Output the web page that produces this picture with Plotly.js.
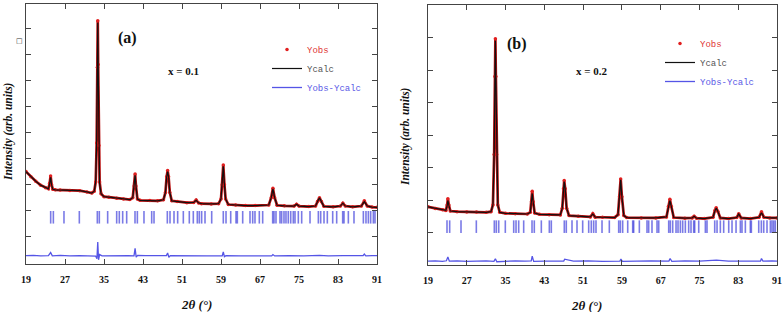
<!DOCTYPE html>
<html><head><meta charset="utf-8">
<script src="https://cdn.plot.ly/plotly-3.0.1.min.js"></script>
<style>html,body{margin:0;padding:0;background:#fff}#chart{width:784px;height:312px}</style>
</head><body><div id="chart"></div>
<script>
// ---- shared tick labels ----
const xTicks = [19,27,35,43,51,59,67,75,83,91];
const aYTicks = [1,2,3,4,5,6,7,8,9];
const bYTicks = [1,2,3,4,5,6,7];

// ---- panel (a): x = 0.1 ----
const aTwoTheta = [19.0,20.0,21.0,22.0,23.0,23.6,23.85,24.05,24.25,24.5,25.0,26.0,28.0,30.0,31.5,32.5,33.0,33.3,33.5,33.65,33.72,33.8,33.95,34.1,34.4,35.0,36.0,37.6,39.0,40.3,40.9,41.2,41.38,41.55,41.85,42.4,44.4,46.0,47.2,47.6,47.85,48.05,48.25,48.5,48.9,50.0,52.0,53.4,53.9,54.4,55.0,57.0,58.5,59.0,59.25,59.47,59.7,59.95,60.5,62.0,64.0,66.0,68.8,69.3,69.65,70.0,70.5,72.0,74.0,74.5,75.0,77.0,78.4,78.8,79.2,79.6,80.1,82.0,83.5,84.0,84.5,86.0,87.8,88.4,89.0,90.0,91.0];
const aObs = [3.50,3.30,3.13,2.98,2.88,2.84,3.05,3.33,3.00,2.82,2.80,2.79,2.78,2.77,2.72,2.68,2.75,3.10,4.60,7.50,9.28,7.60,4.50,3.10,2.65,2.54,2.52,2.48,2.45,2.43,2.50,2.95,3.41,2.95,2.45,2.40,2.39,2.38,2.42,2.70,3.30,3.54,3.30,2.70,2.38,2.35,2.31,2.32,2.41,2.30,2.27,2.26,2.27,2.45,3.00,3.75,3.00,2.45,2.24,2.22,2.20,2.20,2.22,2.50,2.86,2.50,2.21,2.19,2.18,2.25,2.18,2.16,2.18,2.35,2.50,2.35,2.17,2.15,2.18,2.29,2.18,2.15,2.18,2.38,2.18,2.14,2.13];
const aCalc = [3.50,3.30,3.13,2.98,2.88,2.84,3.03,3.28,2.99,2.82,2.80,2.79,2.78,2.77,2.72,2.68,2.75,3.12,4.70,7.40,9.20,7.70,4.55,3.05,2.65,2.54,2.52,2.48,2.45,2.43,2.50,2.93,3.36,2.97,2.45,2.40,2.39,2.38,2.42,2.71,3.28,3.50,3.31,2.70,2.38,2.35,2.31,2.32,2.40,2.30,2.27,2.26,2.27,2.46,3.00,3.70,3.01,2.45,2.24,2.22,2.20,2.20,2.22,2.50,2.84,2.50,2.21,2.19,2.18,2.25,2.18,2.16,2.18,2.35,2.50,2.35,2.17,2.15,2.18,2.29,2.18,2.15,2.18,2.35,2.18,2.14,2.13];
const aDiffX = [19.0,20.5,22.0,23.6,24.05,24.4,26.0,28.0,30.0,32.0,33.3,33.55,33.72,33.88,34.1,34.6,36.0,38.0,40.0,41.15,41.38,41.6,41.9,43.5,46.0,47.8,48.05,48.3,48.6,51.0,54.0,56.0,59.25,59.47,59.7,60.0,63.0,66.0,69.4,69.65,70.0,73.0,76.0,79.2,81.0,84.0,86.0,88.15,88.4,88.7,90.0,91.0];
const aDiff = [0.28,0.29,0.27,0.28,0.40,0.27,0.29,0.27,0.28,0.27,0.26,0.16,0.80,0.12,0.32,0.27,0.28,0.27,0.28,0.27,0.56,0.22,0.29,0.28,0.27,0.28,0.38,0.22,0.28,0.27,0.28,0.27,0.27,0.42,0.24,0.28,0.27,0.28,0.27,0.32,0.27,0.28,0.27,0.29,0.27,0.28,0.27,0.28,0.34,0.27,0.28,0.28];
const aBragg = [24.06,24.61,26.79,29.94,33.63,34.04,35.75,37.6,38.14,38.83,39.65,41.36,41.84,43.2,44.78,45.26,47.99,48.54,49.36,50.11,51.27,52.5,53.32,54.14,54.55,55.03,55.72,57.09,59.47,60.03,60.99,62.08,62.35,63.45,64.95,65.5,65.97,66.86,67.55,69.6,69.87,70.28,71.1,71.44,71.92,72.33,72.8,73.3,73.83,74.18,74.86,75.55,77.26,78.97,79.45,80.13,80.81,81.91,82.73,83.96,84.23,85.12,86.28,88.2,88.74,89.23,89.7,90.25,90.59];
const aBraggY = aBragg.map(() => 1.75);

// ---- panel (b): x = 0.2 ----
const bTwoTheta = [19.0,20.5,22.0,22.7,22.95,23.1,23.3,23.6,25.0,27.0,29.0,31.0,32.0,32.4,32.65,32.8,32.9,33.0,33.15,33.4,33.8,35.0,37.0,39.5,40.1,40.35,40.5,40.7,41.0,42.0,44.0,46.3,46.7,46.95,47.1,47.3,47.6,48.1,50.0,52.5,53.0,53.5,55.0,57.5,58.2,58.5,58.75,59.0,59.4,60.0,63.0,66.0,68.2,68.6,68.9,69.2,69.7,72.0,73.5,73.9,74.4,76.0,77.8,78.2,78.45,78.8,79.3,81.0,82.7,83.1,83.6,85.5,87.3,87.8,88.3,89.5,91.0];
const bObs = [1.79,1.74,1.70,1.68,1.85,2.04,1.85,1.66,1.64,1.63,1.63,1.62,1.64,1.85,3.40,5.80,6.96,5.80,3.40,1.85,1.62,1.59,1.58,1.57,1.62,1.95,2.27,1.95,1.60,1.56,1.55,1.54,1.75,2.35,2.60,2.35,1.75,1.52,1.50,1.48,1.58,1.47,1.47,1.46,1.55,2.10,2.65,2.10,1.52,1.46,1.45,1.45,1.48,1.80,2.02,1.80,1.46,1.44,1.45,1.50,1.44,1.43,1.47,1.68,1.76,1.65,1.45,1.43,1.46,1.58,1.45,1.43,1.47,1.64,1.47,1.45,1.45];
const bCalc = [1.79,1.74,1.70,1.68,1.83,1.98,1.84,1.66,1.64,1.63,1.63,1.62,1.64,1.86,3.45,5.75,6.90,5.82,3.42,1.85,1.62,1.59,1.58,1.57,1.62,1.93,2.20,1.94,1.60,1.56,1.55,1.54,1.75,2.33,2.57,2.35,1.75,1.52,1.50,1.48,1.57,1.47,1.47,1.46,1.55,2.09,2.62,2.10,1.52,1.46,1.45,1.45,1.48,1.79,1.98,1.80,1.46,1.44,1.45,1.50,1.44,1.43,1.47,1.67,1.75,1.65,1.45,1.43,1.46,1.57,1.45,1.43,1.47,1.61,1.47,1.45,1.45];
const bDiffX = [19.0,20.5,22.0,22.8,23.1,23.4,25.0,27.0,29.0,31.0,32.6,32.9,33.2,35.0,37.0,39.0,40.3,40.5,40.8,43.0,45.0,47.0,47.2,49.0,52.0,55.0,58.6,58.8,59.1,62.0,65.0,68.7,68.95,69.3,72.0,75.0,78.5,81.0,84.0,87.6,87.8,88.1,90.0,91.0];
const bDiff = [0.12,0.13,0.11,0.13,0.25,0.12,0.13,0.11,0.12,0.13,0.11,0.19,0.10,0.12,0.13,0.12,0.13,0.27,0.11,0.12,0.13,0.12,0.18,0.12,0.13,0.11,0.12,0.18,0.11,0.12,0.13,0.12,0.20,0.11,0.13,0.12,0.15,0.12,0.13,0.12,0.20,0.12,0.13,0.12];
const bBragg = [22.92,23.47,25.81,28.97,32.68,33.09,33.59,34.95,36.68,37.16,37.71,38.74,40.46,40.93,42.38,44.03,44.44,47.12,47.53,48.71,49.74,50.91,52.15,52.69,53.18,53.66,54.9,56.41,58.34,58.68,59.16,60.2,61.23,61.43,62.6,64.18,64.53,65.21,66.25,66.6,68.66,68.99,69.48,70.17,70.58,71.06,71.54,72.09,72.78,73.26,73.81,74.02,74.85,76.22,76.56,78.15,78.63,79.31,80.0,81.04,81.72,82.55,83.44,83.78,84.47,85.5,85.71,87.23,87.77,88.26,88.94,89.63,89.97,90.32,90.65];
const bBraggY = bBragg.map(() => 1.18);

// ---- legend labels ----
const legObs = '<span style="color:#e03535">Yobs</span>';
const legCalc = '<span style="color:#555555">Ycalc</span>';
const legDiff = '<span style="color:#5a5ae6">Yobs-Ycalc</span>';

const RED = 'rgb(185,15,15)';
const BRAGG = 'rgba(40,40,215,0.62)';
function panel(xa, ya, leg, x, obs, calc, dx, diff, bx, by) {
  return [
    {x, y: obs, xaxis: xa, yaxis: ya, type: 'scatter', mode: 'lines', line: {color: RED, width: 2.7}, showlegend: false},
    {x, y: obs, xaxis: xa, yaxis: ya, type: 'scatter', mode: 'markers', marker: {color: 'rgb(225,30,30)', size: 3.5}, name: legObs, legend: leg},
    {x, y: calc, xaxis: xa, yaxis: ya, type: 'scatter', mode: 'lines', line: {color: '#111', width: 1.2}, name: legCalc, legend: leg},
    {x: dx, y: diff, xaxis: xa, yaxis: ya, type: 'scatter', mode: 'lines', line: {color: 'rgb(85,85,230)', width: 1.3}, name: legDiff, legend: leg},
    {x: bx, y: by, xaxis: xa, yaxis: ya, type: 'scatter', mode: 'markers', marker: {symbol: 'line-ns-open', size: 9, color: BRAGG, line: {color: BRAGG, width: 1.6}}, showlegend: false}
  ];
}
const data = [
  ...panel('x', 'y', 'legend', aTwoTheta, aObs, aCalc, aDiffX, aDiff, aBragg, aBraggY),
  ...panel('x2', 'y2', 'legend2', bTwoTheta, bObs, bCalc, bDiffX, bDiff, bBragg, bBraggY)
];

const W = 784, H = 312;
function xAxis(d0, d1, anchor) {
  return {domain: [d0 / W, d1 / W], anchor, range: [19, 91], tickvals: xTicks, ticktext: xTicks.map(v => '<b>' + v + '</b>'),
    ticks: 'inside', ticklen: 5, tickcolor: '#444', showline: true, linecolor: '#444', linewidth: 1, mirror: 'ticks',
    showgrid: false, zeroline: false, ticklabelstandoff: 6, automargin: false,
    tickfont: {family: 'Liberation Serif', size: 10, color: '#111'}};
}
function yAxis(top, bottom, range, tv, anchor) {
  return {domain: [1 - bottom / H, 1 - top / H], anchor, range, tickvals: tv, showticklabels: false,
    ticks: 'inside', ticklen: 5, tickcolor: '#444', showline: true, linecolor: '#444', linewidth: 1, mirror: 'ticks',
    showgrid: false, zeroline: false, automargin: false};
}
function ann(text, px, py, size, opts) {
  return Object.assign({text, xref: 'paper', yref: 'paper', x: px / W, y: 1 - py / H, showarrow: false,
    xanchor: 'center', yanchor: 'middle', font: {family: 'Liberation Serif', size, color: '#111'}}, opts || {});
}
function legend(px, py) {
  return {xref: 'paper', yref: 'paper', x: px / W, y: 1 - py / H, xanchor: 'left', yanchor: 'top',
    bgcolor: 'rgba(0,0,0,0)', borderwidth: 0, itemwidth: 30, font: {family: 'Liberation Mono', size: 9, color: '#333'}};
}
const layout = {
  width: W, height: H, margin: {l: 0, r: 0, t: 0, b: 0, autoexpand: false}, paper_bgcolor: '#fff', plot_bgcolor: '#fff',
  showlegend: true,
  xaxis: xAxis(26, 377, 'y'), yaxis: yAxis(4, 264, [-0.04, 9.92], aYTicks, 'x'),
  xaxis2: xAxis(428, 777, 'y2'), yaxis2: yAxis(5, 265, [0, 8.0], bYTicks, 'x2'),
  legend: legend(267, 35), legend2: legend(660, 29),
  annotations: [
    ann('<b>(a)</b>', 128, 38, 16),
    ann('<b>x = 0.1</b>', 183, 71, 11),
    ann('<b>(b)</b>', 517, 44, 16),
    ann('<b>x = 0.2</b>', 592, 71, 11),
    ann('<b><i>Intensity (arb. units)</i></b>', 8, 132, 11.5, {textangle: -90}),
    ann('<b><i>Intensity (arb. units)</i></b>', 405, 137, 11.5, {textangle: -90}),
    ann('<b><i>2θ (°)</i></b>', 196, 304, 13),
    ann('<b><i>2θ (°)</i></b>', 586, 305, 13),
    ann('□', 19, 41, 7, {font: {family: 'DejaVu Sans', size: 7, color: '#333'}})
  ]
};
Plotly.newPlot('chart', data, layout, {staticPlot: true});
</script></body></html>
